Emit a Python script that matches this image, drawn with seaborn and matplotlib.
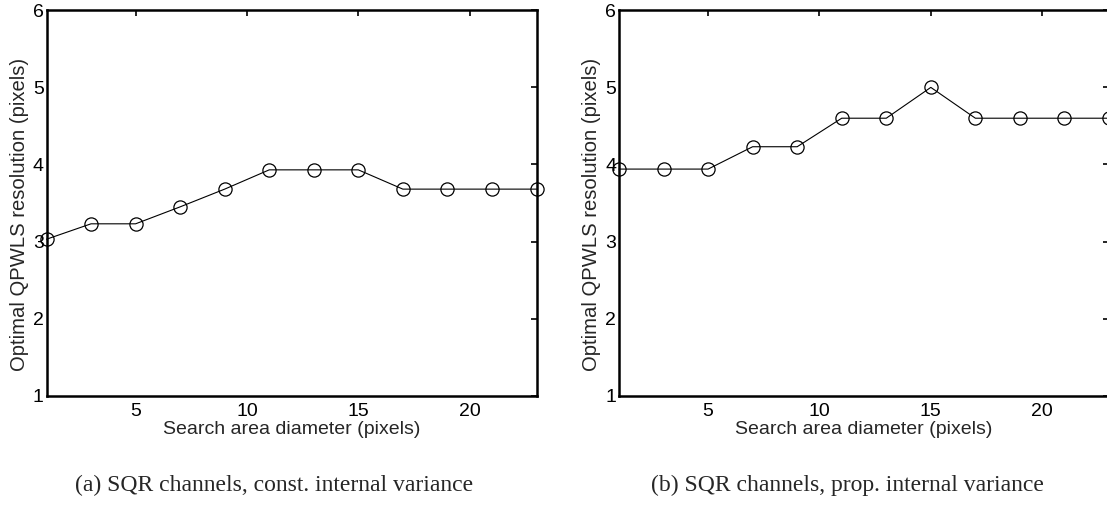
import matplotlib
matplotlib.use("Agg")
import matplotlib.pyplot as plt
import seaborn as sns
import pandas as pd

# Search area diameters (pixels)
diameters = [1, 3, 5, 7, 9, 11, 13, 15, 17, 19, 21, 23]

# Optimal QPWLS resolution for each channel model
res_const = [3.03, 3.23, 3.23, 3.45, 3.68, 3.93, 3.93, 3.93, 3.68, 3.68, 3.68, 3.68]
res_prop = [3.94, 3.94, 3.94, 4.23, 4.23, 4.60, 4.60, 5.00, 4.60, 4.60, 4.60, 4.60]

captions = ["(a) SQR channels, const. internal variance",
            "(b) SQR channels, prop. internal variance"]
xticks = [5, 10, 15, 20]
yticks = [1, 2, 3, 4, 5, 6]

sns.set_style("white")
plt.rcParams["font.family"] = ["Liberation Sans", "DejaVu Sans"]

W, H = 1107, 512
fig = plt.figure(figsize=(W / 100, H / 100), dpi=100)

panels = [
    (res_const, 46.5, 274),
    (res_prop, 619.0, 847),
]

for (vals, left_px, cap_px), cap in zip(panels, captions):
    ax = fig.add_axes([left_px / W, 1 - 395.7 / H, 490 / W, (395.7 - 10.3) / H])
    df = pd.DataFrame({"diameter": diameters, "resolution": vals})
    sns.lineplot(data=df, x="diameter", y="resolution", ax=ax,
                 color="black", linewidth=0.8, marker="o", markersize=9.5,
                 markerfacecolor="none", markeredgecolor="black",
                 markeredgewidth=0.9, clip_on=False)
    ax.set_xlim(1, 23)
    ax.set_ylim(1, 6)
    ax.set_xticks(xticks)
    ax.set_yticks(yticks)
    for s in ax.spines.values():
        s.set_linewidth(1.8)
        s.set_color("black")
    ax.tick_params(direction="in", length=4, width=1.2, top=True, right=True,
                   labelsize=14, colors="black")
    ax.tick_params(axis="y", pad=2)
    ax.tick_params(axis="x", pad=5)
    ax.set_xlabel("Search area diameter (pixels)", fontsize=14, labelpad=1)
    ax.set_ylabel("Optimal QPWLS resolution (pixels)", fontsize=14.6)
    ax.yaxis.set_label_coords(-0.036, 0.47)
    fig.text(cap_px / W, 1 - 485 / H, cap, ha="center", va="center",
             fontsize=17, family=["Liberation Serif", "DejaVu Serif"])

fig.savefig("out.png", dpi=100)
